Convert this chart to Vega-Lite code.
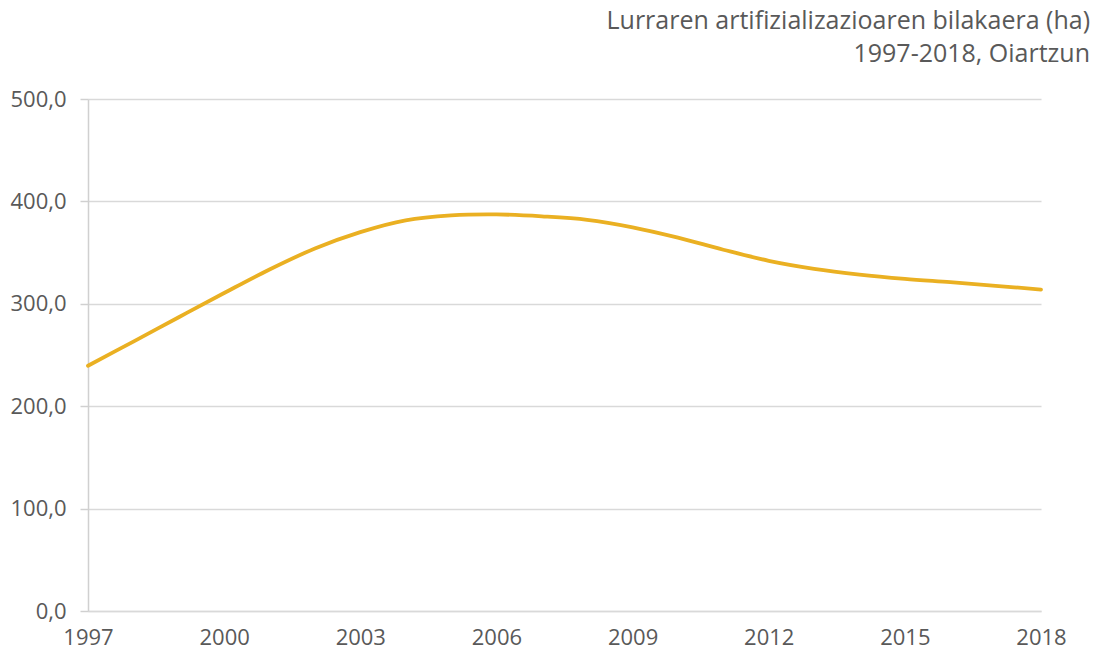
{
  "$schema": "https://vega.github.io/schema/vega-lite/v6.json",
  "width": 953,
  "height": 512,
  "autosize": "none",
  "padding": {"left": 88, "top": 99, "right": 60, "bottom": 43},
  "background": "white",
  "config": {
    "view": {"stroke": null},
    "font": "Open Sans"
  },
  "title": {
    "text": ["Lurraren artifizializazioaren bilakaera (ha)", "1997-2018, Oiartzun"],
    "anchor": "end",
    "frame": "group",
    "dx": 49,
    "offset": 21,
    "fontSize": 25,
    "fontWeight": "normal",
    "color": "#595959",
    "lineHeight": 33,
    "font": "Open Sans"
  },
  "data": {
    "values": [
      {"year": 1997, "ha": 239.5},
      {"year": 1998, "ha": 263.1},
      {"year": 1999, "ha": 286.9},
      {"year": 2000, "ha": 310.5},
      {"year": 2001, "ha": 333.5},
      {"year": 2002, "ha": 354.0},
      {"year": 2003, "ha": 370.0},
      {"year": 2004, "ha": 381.5},
      {"year": 2005, "ha": 386.3},
      {"year": 2006, "ha": 387.3},
      {"year": 2007, "ha": 385.4},
      {"year": 2008, "ha": 382.0},
      {"year": 2009, "ha": 374.7},
      {"year": 2010, "ha": 364.6},
      {"year": 2011, "ha": 352.8},
      {"year": 2012, "ha": 342.0},
      {"year": 2013, "ha": 334.2},
      {"year": 2014, "ha": 328.6},
      {"year": 2015, "ha": 324.4},
      {"year": 2016, "ha": 321.1},
      {"year": 2017, "ha": 317.6},
      {"year": 2018, "ha": 313.9}
    ]
  },
  "mark": {"type": "line", "interpolate": "catmull-rom", "color": "#EAB022", "strokeWidth": 3.8, "strokeCap": "round"},
  "encoding": {
    "x": {
      "field": "year",
      "type": "quantitative",
      "scale": {"domain": [1997, 2018], "nice": false, "zero": false},
      "axis": {
        "title": null,
        "values": [1997, 2000, 2003, 2006, 2009, 2012, 2015, 2018],
        "format": "d",
        "grid": false,
        "ticks": false,
        "labelFlush": false,
        "labelOverlap": false,
        "domainColor": "#D9D9D9",
        "domainWidth": 1.5,
        "labelFontSize": 22,
        "labelColor": "#595959",
        "labelPadding": 16,
        "labelFont": "Open Sans"
      }
    },
    "y": {
      "field": "ha",
      "type": "quantitative",
      "scale": {"domain": [0, 500], "nice": false},
      "axis": {
        "title": null,
        "values": [0, 100, 200, 300, 400, 500],
        "labelExpr": "replace(format(datum.value, '.1f'), '.', ',')",
        "grid": true,
        "gridColor": "#D9D9D9",
        "gridWidth": 1.5,
        "domainColor": "#D0D0D0",
        "domainWidth": 1.5,
        "tickColor": "#D0D0D0",
        "tickSize": 8,
        "tickWidth": 1.5,
        "labelFontSize": 22,
        "labelColor": "#595959",
        "labelPadding": 14,
        "labelFont": "Open Sans"
      }
    }
  }
}
